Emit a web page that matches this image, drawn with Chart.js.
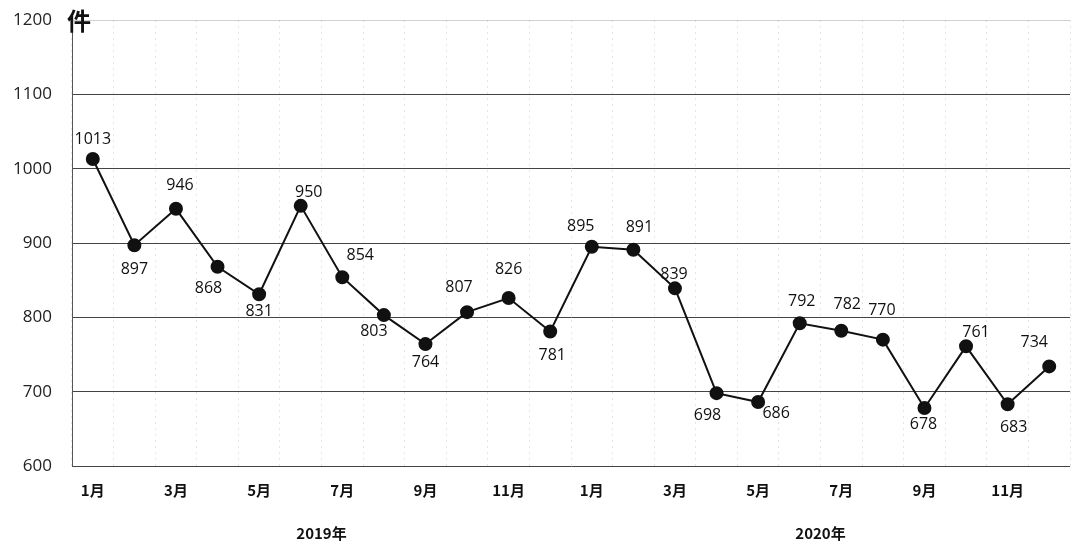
<!DOCTYPE html>
<html>
<head>
<meta charset="utf-8">
<script src="https://cdn.jsdelivr.net/npm/chart.js@4.4.1/dist/chart.umd.min.js"></script>
<style>
  html, body { margin: 0; padding: 0; background: #fff; }
  #wrap { width: 1077px; height: 546px; position: relative; }
</style>
</head>
<body>
<div id="wrap"><canvas id="c"></canvas></div>
<script>
// Monthly counts, Jan 2019 – Dec 2020
const months = ['1月','2月','3月','4月','5月','6月','7月','8月','9月','10月','11月','12月',
                '1月','2月','3月','4月','5月','6月','7月','8月','9月','10月','11月','12月'];
const years = ['2019年', '2020年'];
const counts = [1013, 897, 946, 868, 831, 950, 854, 803, 764, 807, 826, 781,
                895, 891, 839, 698, 686, 792, 782, 770, 678, 761, 683, 734];
const yTicks = [600, 700, 800, 900, 1000, 1100, 1200];
const unitLabel = '件';

// where each value label sits relative to its point (px)
const labelOffsets = [
  [0,-20], [0,24], [4,-23], [-9,22], [0,17], [8,-13], [18,-22], [-10,16],
  [0,18], [-8,-25], [0,-29], [2,24], [-11,-20], [6,-22], [-1,-14], [-9,22],
  [18,11], [2,-22], [6,-26], [-1,-29], [-1,16], [10,-14], [6,23], [-15,-24]
];

const cjk = '"Noto Sans CJK SC", "Noto Sans", sans-serif';
const latin = '"Open Sans", "Noto Sans", sans-serif';

const valueLabels = {
  id: 'valueLabels',
  afterDatasetsDraw(chart) {
    const ctx = chart.ctx;
    const meta = chart.getDatasetMeta(0);
    ctx.save();
    ctx.font = '16px ' + latin;
    ctx.fillStyle = '#111';
    ctx.textAlign = 'center';
    ctx.textBaseline = 'middle';
    meta.data.forEach((pt, i) => {
      const [dx, dy] = labelOffsets[i];
      ctx.fillText(String(counts[i]), pt.x + dx, pt.y + dy);
    });
    ctx.restore();
  }
};

const extraText = {
  id: 'extraText',
  afterDraw(chart) {
    const ctx = chart.ctx;
    const x = chart.scales.x;
    const y = chart.scales.y;
    ctx.save();
    ctx.fillStyle = '#111';
    ctx.textAlign = 'center';
    ctx.textBaseline = 'middle';
    ctx.font = 'bold 15px ' + cjk;
    years.forEach((yr, k) => {
      const a = x.getPixelForValue(k * 12);
      const b = x.getPixelForValue(k * 12 + 11);
      ctx.fillText(yr, (a + b) / 2, 533);
    });
    ctx.font = 'bold 24px ' + cjk;
    ctx.textAlign = 'left';
    ctx.fillText(unitLabel, chart.chartArea.left - 5, y.getPixelForValue(1200) + 1);
    ctx.restore();
  }
};

new Chart(document.getElementById('c'), {
  type: 'line',
  data: {
    labels: months,
    datasets: [{
      data: counts,
      borderColor: '#111',
      borderWidth: 2,
      pointBackgroundColor: '#111',
      pointBorderColor: '#111',
      pointRadius: 6,
      tension: 0
    }]
  },
  options: {
    responsive: true,
    maintainAspectRatio: false,
    animation: false,
    layout: { autoPadding: false, padding: { top: 20, right: 7, bottom: 32, left: 0 } },
    plugins: { legend: { display: false }, tooltip: { enabled: false } },
    scales: {
      x: {
        offset: true,
        grid: {
          offset: true,
          drawTicks: false,
          color: 'rgba(0,0,0,0.10)',
          lineWidth: 1
        },
        border: { display: false, dash: [2, 4] },
        ticks: {
          color: '#111',
          padding: 15,
          maxRotation: 0,
          autoSkip: false,
          font: { family: cjk, size: 15, weight: 'bold' },
          callback: (v, i) => (i % 2 === 0 ? months[i] : '')
        }
      },
      y: {
        min: 600,
        max: 1200,
        afterBuildTicks: (s) => { s.ticks = yTicks.map(v => ({ value: v })); },
        afterFit: (s) => { s.width = 72; s.paddingTop = 0; s.paddingBottom = 0; },
        grid: {
          drawTicks: false,
          color: (c) => (c.tick && c.tick.value === 1200 ? 'rgba(0,0,0,0.18)' : '#444'),
          lineWidth: 1
        },
        border: { display: true, color: '#555', width: 1 },
        ticks: {
          color: '#222',
          padding: 20,
          font: { family: latin, size: 17 },
          callback: (v) => String(v)
        }
      }
    }
  },
  plugins: [valueLabels, extraText]
});
</script>
</body>
</html>
